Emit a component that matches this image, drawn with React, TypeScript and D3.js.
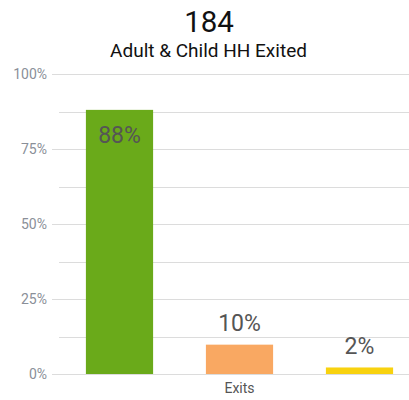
import React from "react";
import * as d3 from "d3";

const categories = ["Positive", "Other", "Unknown"];
const counts = [162, 18, 4];
const colors = ["#6aaa1a", "#f9a862", "#f8d20f"];
const totalLabel = "184";
const subtitle = "Adult & Child HH Exited";
const xAxisLabel = "Exits";
const majorTicks = [0, 0.25, 0.5, 0.75, 1];
const minorTicks = [0.125, 0.375, 0.625, 0.875];

export default function App() {
  const W = 409, H = 400;
  const total = d3.sum(counts);
  const values = counts.map((c) => c / total);
  const y = d3.scaleLinear().domain([0, 1]).range([374, 74]);
  const x = d3.scaleBand().domain(categories).range([59.5, 419.5]).paddingInner(0.44).paddingOuter(0.22);
  const fmt = d3.format(".0%");
  const font = "Roboto, sans-serif";
  return (
    <svg width={W} height={H} style={{ position: "absolute", left: 0, top: 0 }} fontFamily={font}>
      <text x={209} y={32} textAnchor="middle" fontSize={29.5} fill="#111">{totalLabel}</text>
      <text x={208.5} y={57} textAnchor="middle" fontSize={19} fill="#111">{subtitle}</text>
      {minorTicks.map((t) => (
        <line key={"m" + t} x1={59} x2={409} y1={Math.round(y(t)) + 0.5} y2={Math.round(y(t)) + 0.5} stroke="#dcdcdc" strokeWidth={1} />
      ))}
      {majorTicks.map((t) => (
        <g key={"M" + t}>
          <line x1={52} x2={409} y1={Math.round(y(t)) + 0.5} y2={Math.round(y(t)) + 0.5} stroke="#dcdcdc" strokeWidth={1} />
          <text x={47} y={y(t) + 5} textAnchor="end" fontSize={14} fill="#8a8f98">{fmt(t)}</text>
        </g>
      ))}
      {categories.map((c, i) => {
        const bx = x(c)!;
        const by = y(values[i]);
        const bh = y(0) - by;
        const inside = bh > 40;
        return (
          <g key={c}>
            <rect x={bx} y={by} width={x.bandwidth()} height={bh} fill={colors[i]} />
            <text
              x={bx + x.bandwidth() / 2}
              y={inside ? by + 33 : by - 13.5}
              textAnchor="middle"
              fontSize={23}
              fill="#555"
            >
              {fmt(values[i])}
            </text>
          </g>
        );
      })}
      <text x={x(categories[1])! + x.bandwidth() / 2} y={393} textAnchor="middle" fontSize={14} fill="#555">{xAxisLabel}</text>
    </svg>
  );
}
